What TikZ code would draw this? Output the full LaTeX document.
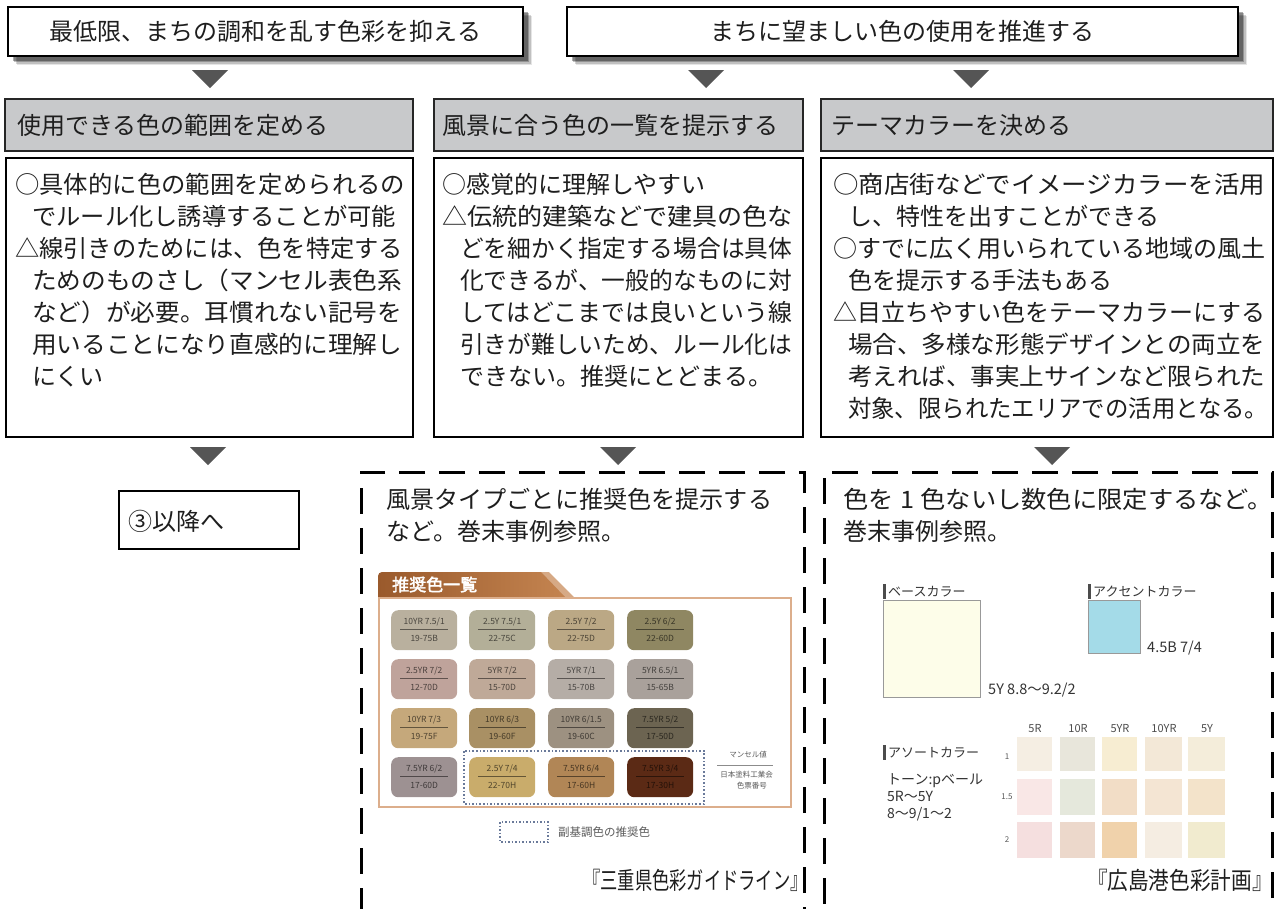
\documentclass[tikz,border=0pt]{standalone}
\usepackage{fontspec}
\setmainfont{Noto Sans CJK JP}
\newfontfamily\jpbold{Noto Sans CJK JP}[FakeBold=2.5]
\usetikzlibrary{calc}

\definecolor{ink}{HTML}{1E1E1E}
\definecolor{hdrgray}{HTML}{C8C9CB}
\definecolor{trigray}{HTML}{555555}
\definecolor{labink}{HTML}{333333}
\definecolor{framebr}{HTML}{DCAE8C}
\definecolor{tabdark}{HTML}{9A5A2C}
\definecolor{tablight}{HTML}{C48450}
\definecolor{dotblue}{HTML}{6A7A9A}

% one justified line of text: set naturally, then scaled horizontally to a width in pt
\newsavebox\jlbox
\newdimen\jlw
\newcommand\jl[2]{\sbox\jlbox{#2}\jlw=\wd\jlbox\pgfmathsetmacro\jlr{#1/\jlw}\scalebox{\jlr}[1]{\usebox\jlbox}}

% a colour chip of the recommended palette: name, x, y, colour, Munsell value, paint code
\newcommand\chip[6]{%
  \definecolor{chipc}{HTML}{#4}%
  \node[chipbox, fill=chipc, anchor=north west] (#1) at (#2,#3) {};
  \node[chiptxt, text=chipc!40!black] (#1a) at ($(#1.north)+(0,12)$) {#5};
  \draw[chipc!50!black, line width=0.6pt] ($(#1.north west)+(9,19.5)$) -- ($(#1.north east)+(-9,19.5)$);
  \node[chiptxt, text=chipc!40!black] (#1b) at ($(#1.north)+(0,28)$) {#6};
}

% a swatch of the assorted colours: name, left, top, right, bottom, colour
\newcommand\swatch[6]{%
  \definecolor{swc}{HTML}{#6}%
  \node[fill=swc, inner sep=0pt, minimum width={(#4-#2)*1pt}, minimum height={(#5-#3)*1pt}, anchor=north west] (#1) at (#2,#3) {};
}

\begin{document}
\begin{tikzpicture}[x=1pt,y=-1pt,
  topbox/.style={draw=black, line width=1.4pt, fill=white, inner sep=0pt, font=\fontsize{24}{28}\selectfont, text=ink},
  hdrbox/.style={draw=black!85, line width=1.5pt, fill=hdrgray, inner sep=0pt},
  bodybox/.style={draw=black, line width=1.8pt, fill=white, inner sep=0pt},
  nextbox/.style={draw=black, line width=1.4pt, fill=white, inner sep=0pt},
  dashbox/.style={draw=black, line width=3pt, dash pattern=on 26pt off 14pt, inner sep=0pt},
  bt/.style={inner sep=0pt, anchor=base west, font=\fontsize{24}{28}\selectfont, text=ink},
  tri/.style={fill=trigray},
  chipbox/.style={rounded corners=7pt, inner sep=0pt, minimum width=66pt, minimum height=40pt},
  chiptxt/.style={inner sep=0pt, font=\fontsize{8.5}{9}\selectfont},
  lab/.style={inner sep=0pt, anchor=base west, text=labink, font=\fontsize{13}{15}\selectfont},
  tiny/.style={inner sep=0pt, text=black!65, font=\fontsize{8}{9}\selectfont},
  cite/.style={inner sep=0pt, anchor=base east, text=ink, font=\fontsize{24}{28}\selectfont}]

\useasboundingbox (0,0) rectangle (1276,908);
\clip (0,0) rectangle (1276,908);

% ---------- soft drop shadows of the two goal boxes ----------
\foreach \d/\op in {9/0.10, 7.5/0.16, 6/0.24, 4.5/0.32}{
  \fill[black, opacity=\op] ({8+\d},{7+\d}) rectangle ({523+\d},{56+\d});
  \fill[black, opacity=\op] ({567+\d},{7+\d}) rectangle ({1238+\d},{56+\d});
}

% ---------- goals ----------
\node[topbox, minimum width=515pt, minimum height=49pt] (goalA) at (265.5,31.5) {最低限、まちの調和を乱す色彩を抑える};
\node[topbox, minimum width=671pt, minimum height=49pt] (goalB) at (902.5,31.5) {まちに望ましい色の使用を推進する};

% ---------- arrows from the goals ----------
\fill[tri] (192,70) -- (228,70) -- (210,88) -- cycle;
\fill[tri] (688,70) -- (724,70) -- (706,88) -- cycle;
\fill[tri] (953,70) -- (989,70) -- (971,88) -- cycle;

% ---------- method headers ----------
\node[hdrbox, minimum width=408pt, minimum height=52pt] (h1) at (209,125) {};
\node[hdrbox, minimum width=369pt, minimum height=52pt] (h2) at (618.5,125) {};
\node[hdrbox, minimum width=452pt, minimum height=52pt] (h3) at (1047,125) {};
\node[bt] (h1t) at (17,134) {使用できる色の範囲を定める};
\node[bt] (h2t) at (442,134) {風景に合う色の一覧を提示する};
\node[bt] (h3t) at (831,134) {テーマカラーを決める};

% ---------- method bodies ----------
\node[bodybox, minimum width=407pt, minimum height=279pt] (m1) at (209.5,297.5) {};
\node[bodybox, minimum width=369pt, minimum height=279pt] (m2) at (618.5,297.5) {};
\node[bodybox, minimum width=452pt, minimum height=279pt] (m3) at (1047,297.5) {};

\node[bt] (m1a) at (15,193) {\jl{390}{○具体的に色の範囲を定められるの}};
\node[bt] (m1b) at (32,225) {\jl{364}{でルール化し誘導することが可能}};
\node[bt] (m1c) at (15,257) {\jl{388}{△線引きのためには、色を特定する}};
\node[bt] (m1d) at (32,289) {\jl{370}{ためのものさし（マンセル表色系}};
\node[bt] (m1e) at (32,321) {\jl{370}{など）が必要。耳慣れない記号を}};
\node[bt] (m1f) at (32,353) {\jl{370}{用いることになり直感的に理解し}};
\node[bt] (m1g) at (32,385) {にくい};

\node[bt] (m2a) at (442,193) {○感覚的に理解しやすい};
\node[bt] (m2b) at (442,225) {\jl{350}{△伝統的建築などで建具の色な}};
\node[bt] (m2c) at (460,257) {\jl{332}{どを細かく指定する場合は具体}};
\node[bt] (m2d) at (460,289) {\jl{332}{化できるが、一般的なものに対}};
\node[bt] (m2e) at (460,321) {\jl{332}{してはどこまでは良いという線}};
\node[bt] (m2f) at (460,353) {\jl{332}{引きが難しいため、ルール化は}};
\node[bt] (m2g) at (460,385) {できない。推奨にとどまる。};

\node[bt] (m3a) at (833,193) {\jl{432}{○商店街などでイメージカラーを活用}};
\node[bt] (m3b) at (848,225) {し、特性を出すことができる};
\node[bt] (m3c) at (833,257) {\jl{432}{○すでに広く用いられている地域の風土}};
\node[bt] (m3d) at (848,289) {色を提示する手法もある};
\node[bt] (m3e) at (833,321) {\jl{432}{△目立ちやすい色をテーマカラーにする}};
\node[bt] (m3f) at (848,353) {\jl{417}{場合、多様な形態デザインとの両立を}};
\node[bt] (m3g) at (848,385) {\jl{417}{考えれば、事実上サインなど限られた}};
\node[bt] (m3h) at (848,417) {\jl{420}{対象、限られたエリアでの活用となる。}};

% ---------- arrows to the outcomes ----------
\fill[tri] (190,447) -- (226,447) -- (208,465) -- cycle;
\fill[tri] (600,447) -- (636,447) -- (618,465) -- cycle;
\fill[tri] (1034,447) -- (1070,447) -- (1052,465) -- cycle;

% ---------- outcomes ----------
\node[nextbox, minimum width=180pt, minimum height=58pt] (next) at (209,520) {};
\node[bt] (nextt) at (128,530) {③以降へ};

\node[dashbox, minimum width=443pt, minimum height=458pt] (ex1) at (582.5,701) {};
\node[dashbox, minimum width=448pt, minimum height=458pt] (ex2) at (1048,701) {};

\node[bt] (ex1a) at (386,508) {\jl{386}{風景タイプごとに推奨色を提示する}};
\node[bt] (ex1b) at (386,540) {など。巻末事例参照。};
\node[bt] (ex2a) at (843,508) {\jl{430}{色を\hspace{6pt}1\hspace{6pt}色ないし数色に限定するなど。}};
\node[bt] (ex2b) at (843,540) {巻末事例参照。};

% ---------- recommended palette (Mie) ----------
\fill[tablight!70!white] (540,572) -- (549,572) -- (574,597) -- (563,597) -- cycle;
\shade[left color=tabdark, right color=tablight] (378,597) -- (378,576) to[out=90,in=180] (382,572) -- (541,572) -- (565,597) -- cycle;
\node[inner sep=0pt, anchor=base west, text=white, font=\jpbold\fontsize{17}{19}\selectfont] (tab) at (392,591) {推奨色一覧};
\node[draw=framebr, line width=1.5pt, inner sep=0pt, minimum width=412pt, minimum height=209pt, anchor=north west] (pal) at (378,597) {};

\chip{c11}{391}{610}{B9B09E}{10YR 7.5/1}{19-75B}
\chip{c12}{469}{610}{B3AF98}{2.5Y 7.5/1}{22-75C}
\chip{c13}{548}{610}{BBA885}{2.5Y 7/2}{22-75D}
\chip{c14}{627}{610}{8F8762}{2.5Y 6/2}{22-60D}
\chip{c21}{391}{659}{BFA39B}{2.5YR 7/2}{12-70D}
\chip{c22}{469}{659}{BFA998}{5YR 7/2}{15-70D}
\chip{c23}{548}{659}{B5ADA6}{5YR 7/1}{15-70B}
\chip{c24}{627}{659}{A9A19B}{5YR 6.5/1}{15-65B}
\chip{c31}{391}{708}{C5A87B}{10YR 7/3}{19-75F}
\chip{c32}{469}{708}{A99064}{10YR 6/3}{19-60F}
\chip{c33}{548}{708}{9D9181}{10YR 6/1.5}{19-60C}
\chip{c34}{627}{708}{6C6451}{7.5YR 5/2}{17-50D}
\chip{c41}{391}{757}{9D9192}{7.5YR 6/2}{17-60D}
\chip{c42}{469}{757}{C9AC6B}{2.5Y 7/4}{22-70H}
\chip{c43}{548}{757}{B18656}{7.5YR 6/4}{17-60H}
\chip{c44}{627}{757}{5B2A15}{7.5YR 3/4}{17-30H}

\draw[dotblue, line width=1.3pt, dash pattern=on 1.6pt off 2pt] (464,751) rectangle (704,804);
\node[tiny, anchor=east, font=\fontsize{7.5}{8}\selectfont] (mv) at (767,755) {マンセル値};
\draw[black!45, line width=0.6pt] (717,765) -- (773,765);
\node[tiny, anchor=east, font=\fontsize{7.5}{8}\selectfont] (jp1) at (773,775) {日本塗料工業会};
\node[tiny, anchor=east, font=\fontsize{7.5}{8}\selectfont] (jp2) at (767,786) {色票番号};

\draw[dotblue, line width=1.1pt, dash pattern=on 1.5pt off 2pt] (500,822) rectangle (548,842);
\node[inner sep=0pt, anchor=west, text=black!65, font=\fontsize{11.5}{13}\selectfont] (leg) at (558,832) {副基調色の推奨色};

\node[cite] (cite1) at (808,889) {\scalebox{0.72}[1]{『三重県色彩ガイドライン』}};

% ---------- theme colours (Hiroshima port) ----------
\fill[black!70] (883,584) rectangle (885.5,599);
\node[lab] (base) at (888,596) {ベースカラー};
\node[draw=black!40, line width=0.8pt, fill={rgb,255:red,253;green,253;blue,233}, inner sep=0pt, minimum width=97pt, minimum height=97pt, anchor=north west] (basesq) at (883,600) {};
\node[lab, font=\fontsize{14.5}{16}\selectfont] (basev) at (988,694) {5Y 8.8～9.2/2};

\fill[black!70] (1088,584) rectangle (1090.5,599);
\node[lab] (acc) at (1093,596) {アクセントカラー};
\node[draw=black!40, line width=0.8pt, fill={rgb,255:red,164;green,219;blue,232}, inner sep=0pt, minimum width=52pt, minimum height=53pt, anchor=north west] (accsq) at (1088,600) {};
\node[lab, font=\fontsize{14.5}{16}\selectfont] (accv) at (1147,652) {4.5B 7/4};

\foreach \t/\x in {5R/1035,10R/1078,5YR/1120,10YR/1164,5Y/1207}
  \node[tiny, text=black!70, font=\fontsize{11}{12}\selectfont] (col\t) at (\x,729) {\t};

\fill[black!70] (883,745) rectangle (885.5,760);
\node[lab] (asrt) at (888,757) {アソートカラー};
\node[lab, font=\fontsize{14}{16}\selectfont] (tone1) at (887,784) {トーン:pベール};
\node[lab, font=\fontsize{14}{16}\selectfont] (tone2) at (887,801) {5R～5Y};
\node[lab, font=\fontsize{14}{16}\selectfont] (tone3) at (887,818) {8～9/1～2};
\node[tiny] (r1) at (1007,757) {1};
\node[tiny] (r2) at (1007,797) {1.5};
\node[tiny] (r3) at (1007,840) {2};

\swatch{s11}{1017}{737}{1052}{771}{F5EEE3}
\swatch{s12}{1060}{737}{1095}{771}{E8E6DB}
\swatch{s13}{1102}{737}{1137}{771}{F7EDD2}
\swatch{s14}{1145}{737}{1182}{771}{F3E8D7}
\swatch{s15}{1188}{737}{1225}{771}{F4EDDA}
\swatch{s21}{1017}{779}{1052}{815}{F9E7E6}
\swatch{s22}{1060}{779}{1095}{815}{E5E8DC}
\swatch{s23}{1102}{779}{1137}{815}{F2DDC6}
\swatch{s24}{1145}{779}{1182}{815}{F4E5D3}
\swatch{s25}{1188}{779}{1225}{815}{F3E3CA}
\swatch{s31}{1017}{822}{1052}{858}{F5DFDF}
\swatch{s32}{1060}{822}{1095}{858}{ECD8CB}
\swatch{s33}{1102}{822}{1137}{858}{F0D2AB}
\swatch{s34}{1145}{822}{1182}{858}{F5EDE2}
\swatch{s35}{1188}{822}{1225}{858}{F1EBCF}

\node[cite] (cite2) at (1273,889) {\scalebox{0.86}[1]{『広島港色彩計画』}};

\end{tikzpicture}
\end{document}
